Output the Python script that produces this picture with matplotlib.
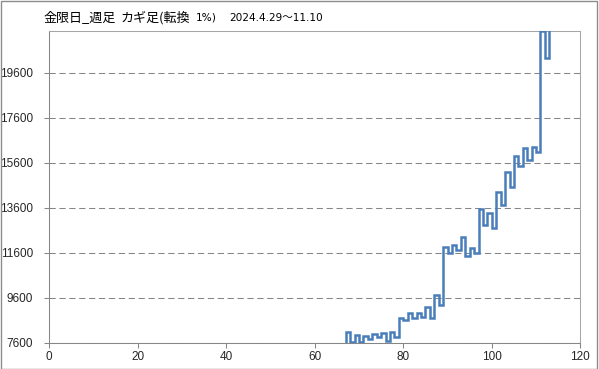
import numpy as np
import matplotlib
matplotlib.use('Agg')
import matplotlib.pyplot as plt
from matplotlib.patches import Rectangle

# kagi turning levels; vertical k sits at x = KAGI_START + k, from levels[k] to levels[k+1]
KAGI_START = 67
levels = [7600, 8090, 7620, 7940, 7620, 7910, 7760, 8000, 7870, 8045, 7675, 8090,
          7870, 8710, 8610, 8905, 8685, 8905, 8730, 9165, 8700, 9740, 9275, 11840,
          11600, 11955, 11720, 12310, 11455, 11795, 11575, 13530, 12830, 13350,
          12700, 14310, 13720, 15200, 14505, 15910, 15455, 16265, 15720, 16310,
          16075, 21470, 20265, 21470]
y_ticks = [7600, 9600, 11600, 13600, 15600, 17600, 19600]
x_ticks = [0, 20, 40, 60, 80, 100, 120]
title_main = '金限日_週足'
title_kind = 'カギ足(転換'
title_pct = '1%)'
title_dates = '2024.4.29～11.10'

W, H = 599, 369
fig = plt.figure(figsize=(W / 100, H / 100), dpi=100)
# plot area in pixels: x 49.3..580.3, y 30.7..342.7
ax = fig.add_axes([49.3 / W, 1 - 342.7 / H, 531 / W, 312 / H])

lv = np.asarray(levels, float)
xk = KAGI_START + np.arange(len(lv) - 1)
xs = np.repeat(xk, 2)
ys = np.column_stack([lv[:-1], lv[1:]]).ravel()
ax.plot(xs, ys, color='#4a7ebb', lw=1.8, solid_joinstyle='miter', zorder=3)

ax.set_xlim(0, 120)
ax.set_ylim(7600, 21470)
ax.set_xticks(x_ticks)
ax.set_yticks(y_ticks)
ax.yaxis.grid(True, color='#868686', lw=0.75, linestyle=(0, (6, 3.5)))
ax.set_axisbelow(True)
for s in ax.spines.values():
    s.set_color('#868686'); s.set_linewidth(0.75)
ax.spines['top'].set_color('#a6a6a6')
ax.spines['right'].set_color('#a6a6a6')
ax.tick_params(axis='y', direction='out', length=3.5, width=0.75, color='#868686',
               pad=8, labelsize=8.5, labelcolor='#262626')
ax.tick_params(axis='x', direction='out', length=3.5, width=0.75, color='#868686',
               pad=2.5, labelsize=8.5, labelcolor='#262626')
for lab in ax.get_xticklabels() + ax.get_yticklabels():
    lab.set_family('Liberation Sans')

jp = ['Noto Sans CJK JP', 'DejaVu Sans']
latin = ['DejaVu Sans', 'Noto Sans CJK JP']
ty = 1 - 18 / H
fig.text(43 / W, ty, title_main, family=jp, fontsize=9.4, va='center', color='#000000')
fig.text(121 / W, ty, title_kind, family=jp, fontsize=9.4, va='center', color='#000000')
fig.text(196 / W, ty, title_pct, family=latin, fontsize=7.6, va='center', color='#000000')
fig.text(229 / W, ty, title_dates, family=latin, fontsize=7.6, va='center', color='#000000')

fig.patches.append(Rectangle((0.5 / W, 0.5 / H), (W - 2.5) / W, (H - 1.5) / H,
                             transform=fig.transFigure, fill=False, ec='#8c8c8c', lw=1))
fig.savefig('out.png', dpi=100)
